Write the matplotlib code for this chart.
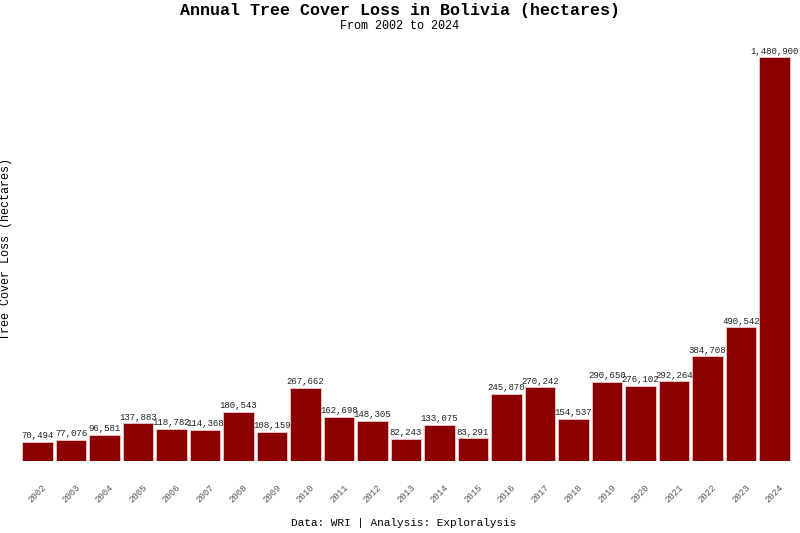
import matplotlib
matplotlib.use("Agg")
import matplotlib.pyplot as plt

years = [str(y) for y in range(2002, 2025)]
loss = [70494, 77076, 96581, 137883, 118782, 114368, 180543, 108159, 267662, 162698,
        148305, 82243, 133075, 83291, 245870, 270242, 154537, 290650, 276102, 292264,
        384708, 490542, 1480900]

plt.rcParams['font.family'] = ['Liberation Mono', 'DejaVu Sans Mono']
fig = plt.figure(figsize=(8, 5.33), dpi=100)
ax = fig.add_axes([0.026, 0.135, 0.963, 0.795])
x = range(len(years))
ax.bar(x, loss, width=0.9, color='#8b0000', edgecolor='#f0c8c8', linewidth=0.6)
for xi, v in zip(x, loss):
    ax.text(xi, v + 6000, f"{v:,}", ha='center', va='bottom', fontsize=6.5, color='#222222')
ax.set_xlim(-0.5, len(years) - 0.5)
ax.set_ylim(0, 1480900 * 1.05)
ax.set_xticks(list(x))
ax.set_xticklabels(years, rotation=45, fontsize=6.5, color='#555555')
ax.tick_params(axis='x', length=0, pad=16)
ax.set_yticks([])
for s in ax.spines.values():
    s.set_visible(False)
ax.set_ylabel('Tree Cover Loss (hectares)', fontsize=8.5)
ax.yaxis.set_label_coords(-0.011, 0.5)
fig.text(0.5, 0.981, 'Annual Tree Cover Loss in Bolivia (hectares)', ha='center', va='center',
         fontsize=12, fontweight='bold')
fig.text(0.5, 0.951, 'From 2002 to 2024', ha='center', va='center', fontsize=8.5)
fig.text(0.505, 0.019, 'Data: WRI | Analysis: Exploralysis', ha='center', va='center', fontsize=8)
fig.savefig('out.png', dpi=100)
